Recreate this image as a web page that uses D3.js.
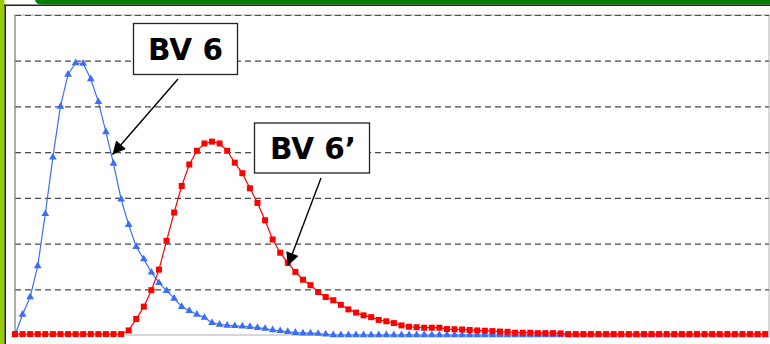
<!DOCTYPE html>
<html>
<head>
<meta charset="utf-8">
<script src="https://cdn.jsdelivr.net/npm/d3@7"></script>
<style>
  html, body { margin: 0; padding: 0; background: #fff; }
  svg { display: block; }
</style>
</head>
<body>
<svg id="chart" width="770" height="344"></svg>
<script>
// ---- data ----
const seriesNames = ["BV 6", "BV 6\u2019"];
const yTicks = [0, 1, 2, 3, 4, 5, 6, 7];
const bv6 = [
  0, 0.45, 0.83, 1.51, 2.65, 3.89, 5.0, 5.70, 5.95, 5.94,
  5.60, 5.10, 4.44, 3.75, 2.97, 2.41, 1.93, 1.66, 1.37, 1.14,
  0.97, 0.80, 0.62, 0.53, 0.45, 0.38, 0.27, 0.23, 0.21, 0.20,
  0.19, 0.18, 0.16, 0.14, 0.11, 0.09, 0.07, 0.05, 0.04, 0.04,
  0.03, 0.015, 0, 0, 0, 0, 0, 0, 0, 0,
  0, 0, 0, 0, 0, 0, 0, 0, 0, 0,
  0, 0, 0, 0, 0, 0, 0, 0, 0, 0,
  0, 0, 0, 0, 0, 0, 0, 0, 0, 0,
  0, 0, 0, 0, 0, 0, 0, 0, 0, 0,
  0, 0, 0, 0, 0, 0, 0, 0, 0, 0
];
const bv6p = [
  0.02, 0.02, 0.02, 0.02, 0.02, 0.02, 0.02, 0.02, 0.02, 0.02,
  0.02, 0.02, 0.02, 0.02, 0.02, 0.1, 0.35, 0.62, 0.98, 1.43,
  2.06, 2.68, 3.26, 3.73, 4.03, 4.19, 4.23, 4.19, 4.03, 3.77,
  3.54, 3.21, 2.89, 2.51, 2.09, 1.80, 1.58, 1.38, 1.21, 1.09,
  0.94, 0.83, 0.76, 0.66, 0.56, 0.49, 0.43, 0.39, 0.33, 0.30,
  0.26, 0.21, 0.18, 0.17, 0.16, 0.16, 0.16, 0.13, 0.125, 0.12,
  0.11, 0.10, 0.094, 0.085, 0.075, 0.07, 0.05, 0.05, 0.05, 0.04,
  0.04, 0.04, 0.035, 0.02, 0.02, 0.02, 0.02, 0.02, 0.02, 0.02,
  0.02, 0.02, 0.02, 0.02, 0.02, 0.02, 0.02, 0.02, 0.02, 0.02,
  0.02, 0.02, 0.02, 0.02, 0.02, 0.02, 0.02, 0.02, 0.02, 0.02
];

// ---- layout ----
const svg = d3.select("#chart");
const plot = { left: 15, right: 769, top: 15, bottom: 335 };

// slide decoration
svg.append("rect").attr("x", 0).attr("y", 0).attr("width", 4.5).attr("height", 344).attr("fill", "#99cc00");
svg.append("path")
  .attr("d", "M35,0 H770 V4.5 H42 Q36,4.5 35,0 Z")
  .attr("fill", "#008000");
svg.append("line").attr("x1", 4).attr("x2", 770).attr("y1", 5.2).attr("y2", 5.2)
  .attr("stroke", "#1b2a10").attr("stroke-width", 1.6);
svg.append("line").attr("x1", 5.2).attr("x2", 5.2).attr("y1", 5).attr("y2", 344)
  .attr("stroke", "#1b2a10").attr("stroke-width", 1.6);

const x = d3.scaleLinear().domain([0, 99.5]).range([plot.left, plot.right]);
const y = d3.scaleLinear().domain([0, 7]).range([plot.bottom, plot.top]);

// plot border (light gray)
svg.append("rect")
  .attr("x", plot.left).attr("y", plot.top)
  .attr("width", plot.right - plot.left).attr("height", plot.bottom - plot.top)
  .attr("fill", "none").attr("stroke", "#b0b0b0").attr("stroke-width", 1);

// gridlines via axis
const grid = svg.append("g")
  .attr("transform", `translate(${plot.left},0)`)
  .call(d3.axisLeft(y).tickValues(yTicks.filter(t => t > 0))
    .tickSize(-(plot.right - plot.left)).tickFormat(""));
grid.select(".domain").remove();
grid.selectAll(".tick line")
  .attr("stroke", "#4a4a4a").attr("stroke-width", 1.2).attr("stroke-dasharray", "6,4");

// left axis line
svg.append("line").attr("x1", plot.left).attr("x2", plot.left)
  .attr("y1", plot.top).attr("y2", plot.bottom)
  .attr("stroke", "#909090").attr("stroke-width", 1.2);

const line = d3.line().x((d, i) => x(i)).y(d => y(d));

// blue series
const blue = "#3a6ff5";
svg.append("path").datum(bv6).attr("d", line)
  .attr("fill", "none").attr("stroke", blue).attr("stroke-width", 1.2);
svg.append("g").selectAll("path").data(bv6).join("path")
  .attr("transform", (d, i) => `translate(${x(i)},${y(d)})`)
  .attr("d", d3.symbol().type(d3.symbolTriangle).size(26))
  .attr("fill", blue);

// red series
const red = "#ff0000";
svg.append("path").datum(bv6p).attr("d", line)
  .attr("fill", "none").attr("stroke", red).attr("stroke-width", 1.2);
svg.append("g").selectAll("rect").data(bv6p).join("rect")
  .attr("x", (d, i) => x(i) - 3).attr("y", d => y(d) - 3)
  .attr("width", 6).attr("height", 6)
  .attr("fill", red);

// annotations
const defs = svg.append("defs");
defs.append("marker").attr("id", "arrow")
  .attr("viewBox", "0 0 10 10").attr("refX", 10).attr("refY", 5)
  .attr("markerWidth", 16).attr("markerHeight", 13)
  .attr("markerUnits", "userSpaceOnUse")
  .attr("orient", "auto")
  .append("path").attr("d", "M0,0 L10,5 L0,10 Z").attr("fill", "#000");

const notes = [
  { label: seriesNames[0], bx: 133.5, by: 23.5, bw: 104, bh: 51, from: [178, 79], idx: 13, dx: -1, dy: -9 },
  { label: seriesNames[1], bx: 254.5, by: 123, bw: 115, bh: 50, from: [321, 178], idx: 36, dx: 0, dy: 3 }
];
notes.forEach((n, k) => {
  const series = k === 0 ? bv6 : bv6p;
  const tx = x(n.idx) + n.dx, ty = y(series[n.idx]) + n.dy;
  svg.append("line")
    .attr("x1", n.from[0]).attr("y1", n.from[1]).attr("x2", tx).attr("y2", ty)
    .attr("stroke", "#000").attr("stroke-width", 1.4)
    .attr("marker-end", "url(#arrow)");
  svg.append("rect").attr("x", n.bx).attr("y", n.by).attr("width", n.bw).attr("height", n.bh)
    .attr("fill", "#fff").attr("stroke", "#222").attr("stroke-width", 1.3);
  svg.append("text")
    .attr("x", n.bx + n.bw / 2 + (k === 1 ? 1 : 0)).attr("y", n.by + n.bh / 2 + 11)
    .attr("text-anchor", "middle")
    .attr("font-family", "DejaVu Sans, Verdana, sans-serif")
    .attr("font-weight", "bold").attr("font-size", 29.5)
    .attr("fill", "#000")
    .text(n.label);
});
</script>
</body>
</html>
